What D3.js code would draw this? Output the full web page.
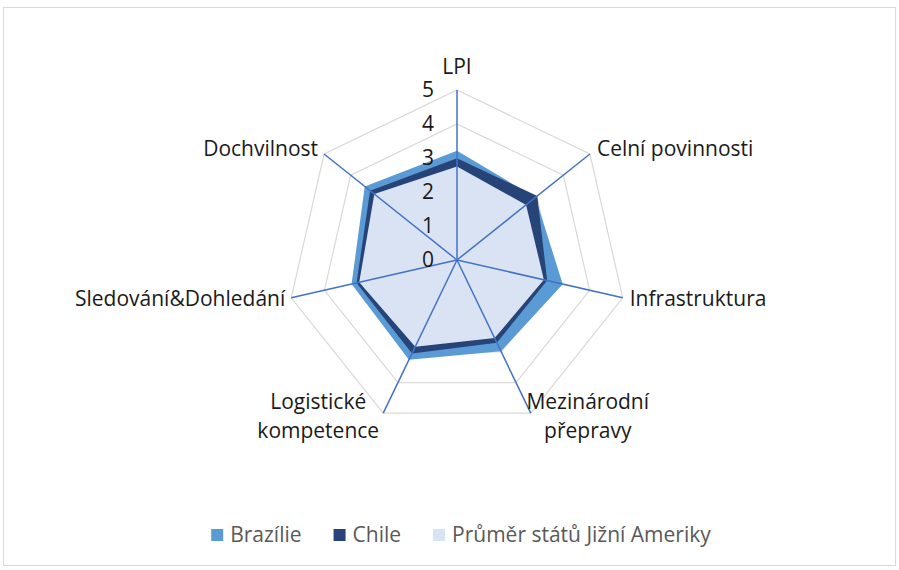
<!DOCTYPE html>
<html lang="cs">
<head>
<meta charset="UTF-8">
<title>Radar LPI</title>
<script src="https://cdn.jsdelivr.net/npm/d3@7"></script>
<style>
  body { margin: 0; background: #fff; }
  svg { display: block; font-family: "Open Sans", "Liberation Sans", sans-serif; }
  .axis-label { font-size: 21px; fill: #1a1a1a; }
  .tick-label { font-size: 21px; fill: #1a1a1a; }
  .legend text { font-size: 21px; fill: #595959; }
</style>
</head>
<body>
<script>
// osy grafu
const categories = ["LPI", "Celní povinnosti", "Infrastruktura", "Mezinárodní přepravy",
                    "Logistické kompetence", "Sledování&Dohledání", "Dochvilnost"];
const seriesNames = ["Brazílie", "Chile", "Průměr států Jižní Ameriky"];
const brazil  = [3.21, 2.95, 3.19, 2.98, 3.26, 3.18, 3.47];
const chile   = [2.99, 3.02, 2.72, 2.70, 3.05, 3.03, 3.27];
const average = [2.75, 2.60, 2.62, 2.55, 2.83, 2.95, 3.11];
const ticks = [0, 1, 2, 3, 4, 5];

// víceřádkové popisky
const labelLines = {
  "Mezinárodní přepravy": ["Mezinárodní", "přepravy"],
  "Logistické kompetence": ["Logistické", "kompetence"]
};

const width = 899, height = 570;
const cx = 457, cy = 260, radius = 170;
const colors = ["#5b9bd5", "#264478", "#dae3f3"];

const svg = d3.select("body").append("svg")
  .attr("width", width)
  .attr("height", height);

// rámeček
svg.append("rect")
  .attr("x", 3.5).attr("y", 7.5)
  .attr("width", 892).attr("height", 558)
  .attr("fill", "#fff")
  .attr("stroke", "#d9d9d9");

const r = d3.scaleLinear().domain([0, 5]).range([0, radius]);
const angle = d3.scalePoint().domain(categories).range([0, 2 * Math.PI * (categories.length - 1) / categories.length]);

const g = svg.append("g").attr("transform", "translate(" + cx + "," + cy + ")");

function pt(cat, v) {
  const a = angle(cat);
  return [Math.sin(a) * r(v), -Math.cos(a) * r(v)];
}

// mřížka
g.selectAll(".ring")
  .data(ticks.filter(d => d > 0))
  .enter().append("polygon")
  .attr("class", "ring")
  .attr("points", d => categories.map(c => pt(c, d).join(",")).join(" "))
  .attr("fill", "none")
  .attr("stroke", "#d9d9d9")
  .attr("stroke-width", 1.2);

// plochy řad
const series = [brazil, chile, average];
const radarLine = d3.lineRadial()
  .angle((d, i) => angle(categories[i]))
  .radius(d => r(d))
  .curve(d3.curveLinearClosed);

g.selectAll(".area")
  .data(series)
  .enter().append("path")
  .attr("class", "area")
  .attr("d", d => radarLine(d))
  .attr("fill", (d, i) => colors[i]);

// osy
g.selectAll(".spoke")
  .data(categories)
  .enter().append("line")
  .attr("class", "spoke")
  .attr("x1", 0).attr("y1", 0)
  .attr("x2", d => pt(d, 5)[0])
  .attr("y2", d => pt(d, 5)[1])
  .attr("stroke", "#4472c4")
  .attr("stroke-width", 1.5);

// hodnoty na ose
g.selectAll(".tick-label")
  .data(ticks)
  .enter().append("text")
  .attr("class", "tick-label")
  .attr("x", -23)
  .attr("y", d => -r(d))
  .attr("dy", "0.35em")
  .attr("text-anchor", "end")
  .text(d => d);

// popisky os
categories.forEach(c => {
  const a = angle(c);
  const [x, y] = pt(c, 5);
  const s = Math.sin(a), co = Math.cos(a);
  const lines = labelLines[c] || [c];
  const t = g.append("text").attr("class", "axis-label");
  let tx, ty, anchor;
  if (Math.abs(s) < 0.1) {
    tx = x; ty = y - 16; anchor = "middle";
  } else if (co < -0.8) {
    tx = x + (s > 0 ? 57 : -65); ty = y - 4; anchor = "middle";
  } else {
    tx = x + (s > 0 ? 7 : -6); ty = y + (co > 0 ? 2 : 8); anchor = s > 0 ? "start" : "end";
  }
  t.attr("text-anchor", anchor);
  lines.forEach((l, i) => {
    t.append("tspan").attr("x", tx).attr("y", ty + i * 29).text(l);
  });
});

// legenda
const legend = svg.append("g").attr("class", "legend");
let lx = 0;
seriesNames.forEach((name, i) => {
  const item = legend.append("g").attr("transform", "translate(" + lx + ",0)");
  item.append("rect").attr("x", 0).attr("y", -12).attr("width", 12).attr("height", 12)
    .attr("fill", colors[i]);
  const txt = item.append("text").attr("x", 19).attr("y", 0).attr("dy", "0.05em").text(name);
  lx += 19 + txt.node().getComputedTextLength() + 32;
});
const legendWidth = lx - 32;
legend.attr("transform", "translate(" + (461 - legendWidth / 2) + ",541)");
</script>
</body>
</html>
